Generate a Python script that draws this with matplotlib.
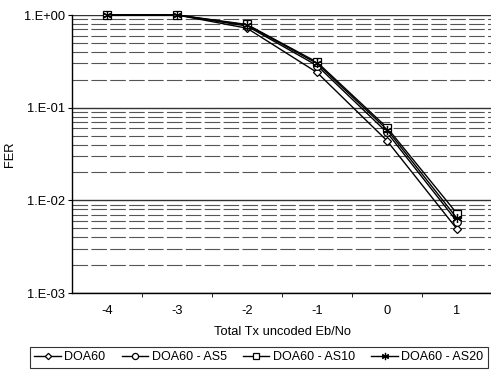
import matplotlib
matplotlib.use("Agg")
import matplotlib.pyplot as plt
from matplotlib.ticker import LogLocator, FixedLocator, NullFormatter

categories = [-4, -3, -2, -1, 0, 1]
series_names = ["DOA60", "DOA60 - AS5", "DOA60 - AS10", "DOA60 - AS20"]
doa60 = [1.0, 1.0, 0.72, 0.24, 0.044, 0.0049]
doa60_as5 = [1.0, 1.0, 0.76, 0.285, 0.054, 0.0059]
doa60_as10 = [1.0, 1.0, 0.79, 0.31, 0.061, 0.0072]
doa60_as20 = [1.0, 1.0, 0.78, 0.30, 0.058, 0.0064]
ytick_vals = [1e-3, 1e-2, 1e-1, 1e0]
ytick_labels = ["1.E-03", "1.E-02", "1.E-01", "1.E+00"]

FS = 9.3
plt.rcParams['font.family'] = ['Liberation Sans', 'DejaVu Sans']
fig = plt.figure(figsize=(4.91, 3.70), dpi=100)
ax = fig.add_axes([72/491, (370-293)/370, 420/491, (293-15)/370])

xs = list(range(len(categories)))
markers = ['D', 'o', 's', (6, 2, 0)]
sizes = [4, 5.5, 6, 6.5]
data = [doa60, doa60_as5, doa60_as10, doa60_as20]
for name, vals, m, s in zip(series_names, data, markers, sizes):
    ax.plot(xs, vals, color='black', lw=1.0, marker=m, ms=s,
            mfc='white', mec='black', mew=0.9, label=name, clip_on=False, zorder=3)

ax.set_yscale('log')
ax.set_ylim(1e-3, 1)
ax.set_xlim(-0.5, len(categories) - 0.5)
ax.yaxis.set_major_locator(FixedLocator(ytick_vals))
ax.set_yticklabels(ytick_labels)
ax.yaxis.set_minor_locator(LogLocator(base=10, subs=range(2, 10)))
ax.yaxis.set_minor_formatter(NullFormatter())
ax.tick_params(axis='y', which='minor', length=0)
ax.tick_params(axis='y', which='major', length=3, labelsize=FS, pad=2)

ax.set_xticks(xs)
ax.set_xticklabels([str(c) for c in categories])
ax.set_xticks([x + 0.5 for x in xs[:-1]], minor=True)
ax.tick_params(axis='x', which='major', length=0, labelsize=FS, pad=9)
ax.tick_params(axis='x', which='minor', length=3)

ax.grid(True, axis='y', which='major', color='#333333', lw=1.0)
ax.grid(True, axis='y', which='minor', color='#555555', lw=0.8,
        linestyle=(0, (14, 3)))
ax.set_axisbelow(True)
ax.spines['right'].set_visible(False)
ax.spines['top'].set_visible(False)
ax.spines['left'].set_linewidth(1.0)
ax.spines['bottom'].set_linewidth(1.0)

ax.set_xlabel("Total Tx uncoded Eb/No", fontsize=FS, labelpad=6)
ax.set_ylabel("FER", fontsize=FS)
ax.yaxis.set_label_coords((16 - 72) / 420, 0.5)

leg = fig.legend(loc='upper left', bbox_to_anchor=(30/491, (370-347)/370),
                 ncol=4, fontsize=9, frameon=True, fancybox=False,
                 edgecolor='black', handlelength=2.1, handletextpad=0.3,
                 columnspacing=1.3, borderpad=0.35, borderaxespad=0.0,
                 markerscale=0.8)
leg.get_frame().set_linewidth(0.8)

fig.savefig("out.png", dpi=100)
